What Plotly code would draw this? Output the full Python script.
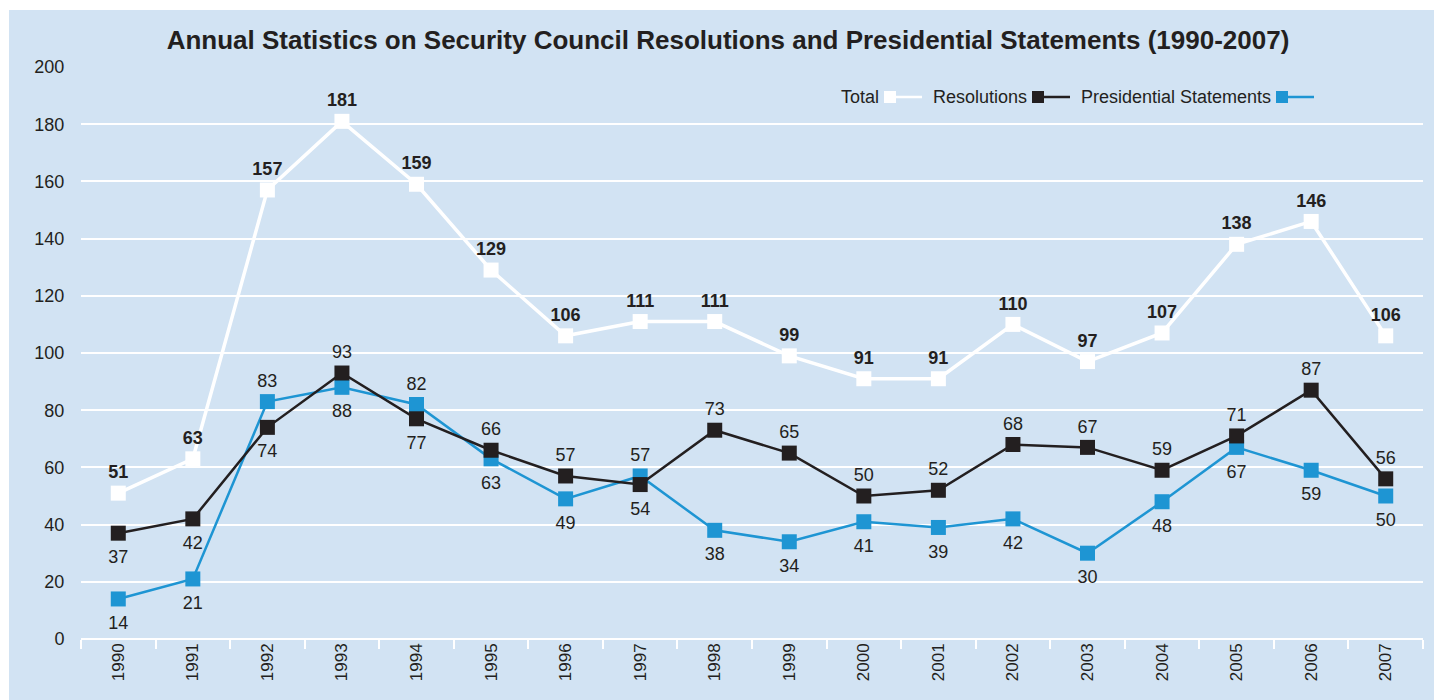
import plotly.graph_objects as go

years = [str(y) for y in range(1990, 2008)]
total = [51, 63, 157, 181, 159, 129, 106, 111, 111, 99, 91, 91, 110, 97, 107, 138, 146, 106]
resolutions = [37, 42, 74, 93, 77, 66, 57, 54, 73, 65, 50, 52, 68, 67, 59, 71, 87, 56]
statements = [14, 21, 83, 88, 82, 63, 49, 57, 38, 34, 41, 39, 42, 30, 48, 67, 59, 50]
# label placement: True = label above the point, False = below
res_above = [False, False, False, True, False, True, True, False, True, True, True,
             True, True, True, True, True, True, True]
ps_above = [False, False, True, False, True, False, False, True, False, False,
            False, False, False, False, False, False, False, False]

BG = "#d2e3f3"
DARK = "#231f20"
BLUE = "#1e95d3"
FONT = "Liberation Sans, Arial, sans-serif"

W, H = 1442, 700
OFF = 8  # page body margin
# plot area in screenshot coordinates
SL, SR, ST, SB = 81, 1423, 67, 639
L, R, T, B = SL - OFF, SR - OFF, ST - OFF, SB - OFF


def px(x):
    return (x - SL) / (SR - SL)


def py(y):
    return (SB - y) / (SB - ST)


def series(values, color, width):
    return go.Scatter(x=years, y=values, mode="lines+markers",
                      line=dict(color=color, width=width),
                      marker=dict(symbol="square", size=15, color=color, line=dict(width=0)),
                      showlegend=False, hoverinfo="skip", cliponaxis=False)


def labels(values, above, bold=False):
    fmt = "<b>%d</b>" if bold else "%d"
    return go.Scatter(x=years, y=values, mode="markers+text",
                      text=[fmt % v for v in values],
                      textposition=["top center" if a else "bottom center" for a in above],
                      textfont=dict(size=18, color=DARK, family=FONT),
                      marker=dict(size=[15 if a else 25 for a in above], opacity=0,
                                  color="rgba(0,0,0,0)", line=dict(width=0, color="rgba(0,0,0,0)")),
                      showlegend=False, hoverinfo="skip", cliponaxis=False)


fig = go.Figure()
fig.add_trace(series(statements, BLUE, 2.5))
fig.add_trace(series(resolutions, DARK, 2.5))
fig.add_trace(series(total, "white", 3.5))
fig.add_trace(labels(statements, ps_above))
fig.add_trace(labels(resolutions, res_above))
fig.add_trace(labels(total, [True] * len(total), bold=True))

shapes = [
    dict(type="rect", xref="paper", yref="paper", x0=px(0), x1=px(W + 20), y0=py(OFF), y1=py(OFF + 2),
         fillcolor="white", line=dict(width=0), layer="above"),
    dict(type="rect", xref="paper", yref="paper", x0=px(OFF), x1=px(OFF + 1), y0=py(H + 20), y1=py(0),
         fillcolor="white", line=dict(width=0), layer="above"),
]
annotations = []
legend_items = [
    ("Total", 884, "white"),
    ("Resolutions", 1032, DARK),
    ("Presidential Statements", 1276, BLUE),
]
ly = 97
for name, sx, col in legend_items:
    annotations.append(dict(text=name, xref="paper", yref="paper", x=px(sx - 3), y=py(ly),
                            xanchor="right", yanchor="middle", showarrow=False,
                            font=dict(size=18, color=DARK, family=FONT)))
    shapes.append(dict(type="line", xref="paper", yref="paper", x0=px(sx + 6), x1=px(sx + 38),
                       y0=py(ly), y1=py(ly), line=dict(color=col, width=2.5)))
    shapes.append(dict(type="rect", xref="paper", yref="paper", x0=px(sx), x1=px(sx + 12),
                       y0=py(ly + 6), y1=py(ly - 6), fillcolor=col, line=dict(width=0)))

fig.update_layout(
    width=W, height=H,
    margin=dict(l=L, r=W - R, t=T, b=H - B),
    paper_bgcolor=BG, plot_bgcolor=BG,
    font=dict(family=FONT, color=DARK, size=18),
    title=dict(text="<b>Annual Statistics on Security Council Resolutions and Presidential Statements (1990-2007)</b>",
               x=(728 - OFF) / W, xanchor="center", y=1 - (40 - OFF) / H, yanchor="middle",
               font=dict(size=26, color=DARK, family=FONT)),
    shapes=shapes, annotations=annotations,
    xaxis=dict(type="category", range=[-0.5, 17.5], showgrid=False, zeroline=False,
               ticks="outside", tickson="boundaries", ticklen=9, tickwidth=2, tickcolor="white",
               tickangle=-90, tickfont=dict(size=17, color=DARK), showline=False),
    yaxis=dict(range=[0, 200], dtick=20, showgrid=True, gridcolor="white", gridwidth=2,
               zeroline=True, zerolinecolor="white", zerolinewidth=2,
               ticks="outside", ticklen=12, tickcolor=BG, tickfont=dict(size=18, color=DARK),
               fixedrange=True),
)

fig.write_html("out.html")
